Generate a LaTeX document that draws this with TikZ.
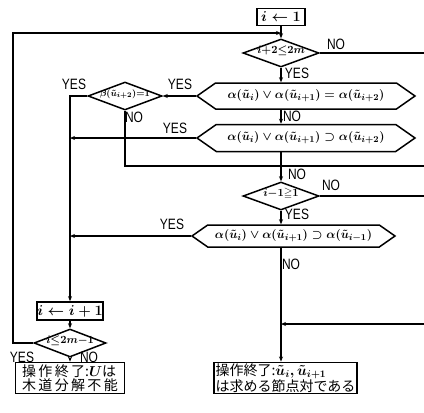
\documentclass[tikz,border=0pt]{standalone}
\usepackage{amssymb}
\usepackage{fontspec}
\setmainfont{Liberation Sans}
\newfontfamily\lab[FakeStretch=0.8]{Liberation Sans}
\newfontfamily\jp{Noto Sans CJK JP}
\usetikzlibrary{shapes.geometric,shapes.symbols,arrows.meta}
\newcommand{\dtext}[1]{\smash{\makebox[0pt]{#1}}}
\begin{document}
\begin{tikzpicture}[x=1pt,y=-1pt,line width=1.3pt,
  >={Stealth[length=5pt,width=4pt]},
  every node/.style={inner sep=0pt,font=\fontsize{15}{17}\selectfont\boldmath},
  boxnode/.style={draw,rectangle,line width=1.7pt},
  dia/.style={draw,diamond,line width=1.5pt,minimum width=76pt,minimum height=28pt,
    font=\fontsize{11}{12}\selectfont\boldmath},
  hex/.style={draw,signal,signal to=west and east,signal pointer angle=70,line width=1.5pt,
    font=\fontsize{13}{15}\selectfont\boldmath},
  lbl/.style={font=\lab\fontsize{15}{15}\selectfont},
  jpt/.style={font=\jp\fontsize{14}{14.5}\selectfont\boldmath,align=left}]
\useasboundingbox (0,0) rectangle (424,413);

% nodes
\node[boxnode,minimum width=48pt,minimum height=17pt] (start) at (281,17) {$i\leftarrow 1$};
\coordinate (j0) at (281,33);
\node[dia] (d1) at (281,53) {\dtext{$i{+}2{\leq}2m$}};
\node[hex,minimum width=218pt,minimum height=26pt] (h1) at (306,96)
  {$\alpha(\tilde u_i)\vee\alpha(\tilde u_{i+1})=\alpha(\tilde u_{i+2})$};
\node[dia,minimum width=74pt] (b) at (125,96) {\dtext{\fontsize{9.5}{10}\selectfont$\beta(\tilde u_{i+2}){=}1$}};
\node[hex,minimum width=218pt,minimum height=27pt] (h2) at (306,138)
  {$\alpha(\tilde u_i)\vee\alpha(\tilde u_{i+1})\supset\alpha(\tilde u_{i+2})$};
\node[dia] (d3) at (281,196) {\dtext{$i{-}1{\geqq}1$}};
\node[hex,minimum width=203pt,minimum height=22pt] (h3) at (293.5,236)
  {$\alpha(\tilde u_i)\vee\alpha(\tilde u_{i+1})\supset\alpha(\tilde u_{i-1})$};
\node[boxnode,minimum width=66pt,minimum height=18pt] (inc) at (70,311) {$i\leftarrow i+1$};
\node[dia,minimum width=72pt] (d4) at (70,343) {\dtext{$i{\leq}2m{-}1$}};
\node[boxnode,jpt,minimum width=109pt,minimum height=31pt,inner sep=1pt] (endL) at (70,378)
  {操\,作\,終\,了:$U$は\\木\,道\,分\,解\,不\,能};
\node[boxnode,jpt,minimum width=143pt,minimum height=30pt,inner sep=1pt] (endR) at (285.5,378)
  {操作終了:$\tilde u_i,\tilde u_{i+1}$\\は求める節点対である};

% free ends
\coordinate (r1) at (424,53);
\coordinate (r2) at (424,166);
\coordinate (r3) at (424,196);
\coordinate (r4) at (424,324);
\coordinate (j4) at (281,324);
\coordinate (lx) at (13,343);

% connectors
\draw (start) -- (j0);
\draw[->] (j0) -- (d1.north);
\draw (d1.east) -- (r1);
\draw[->] (d1.south) -- (d1.south |- h1.north);
\draw[->] (h1.west) -- (b.east);
\draw[->] (b.west) -| (inc.north);
\draw (b.south) |- (r2);
\draw[->] (h1.south -| d1) -- (h2.north -| d1);
\draw[->] (h2.west) -- (h2.west -| inc);
\draw[->] (h2.south -| d1) -- (d3.north);
\draw (d3.east) -- (r3);
\draw[->] (d3.south) -- (d3.south |- h3.north);
\draw[->] (h3.west) -- (h3.west -| inc);
\draw[->] (h3.south -| d1) -- (endR.north -| d1);
\draw[->] (r4) -- (j4);
\draw[->] (inc.south) -- (d4.north);
\draw[->] (d4.south) -- (endL.north);
\draw[->] (d4.west) -- (lx) |- (j0);

% labels
\node[lbl] (l1) at (336,44) {NO};
\node[lbl] (l2) at (297,73) {YES};
\node[lbl] (l3) at (74,84) {YES};
\node[lbl] (l4) at (180,84) {YES};
\node[lbl] (l5) at (134,117) {NO};
\node[lbl] (l6) at (292,116) {NO};
\node[lbl] (l7) at (175,128) {YES};
\node[lbl] (l8) at (297,174) {NO};
\node[lbl] (l9) at (331,185) {NO};
\node[lbl] (l10) at (297,214) {YES};
\node[lbl] (l11) at (172,224) {YES};
\node[lbl] (l12) at (291,264) {NO};
\node[lbl] (l13) at (22,357) {YES};
\node[lbl] (l14) at (89,357) {NO};
\end{tikzpicture}
\end{document}
